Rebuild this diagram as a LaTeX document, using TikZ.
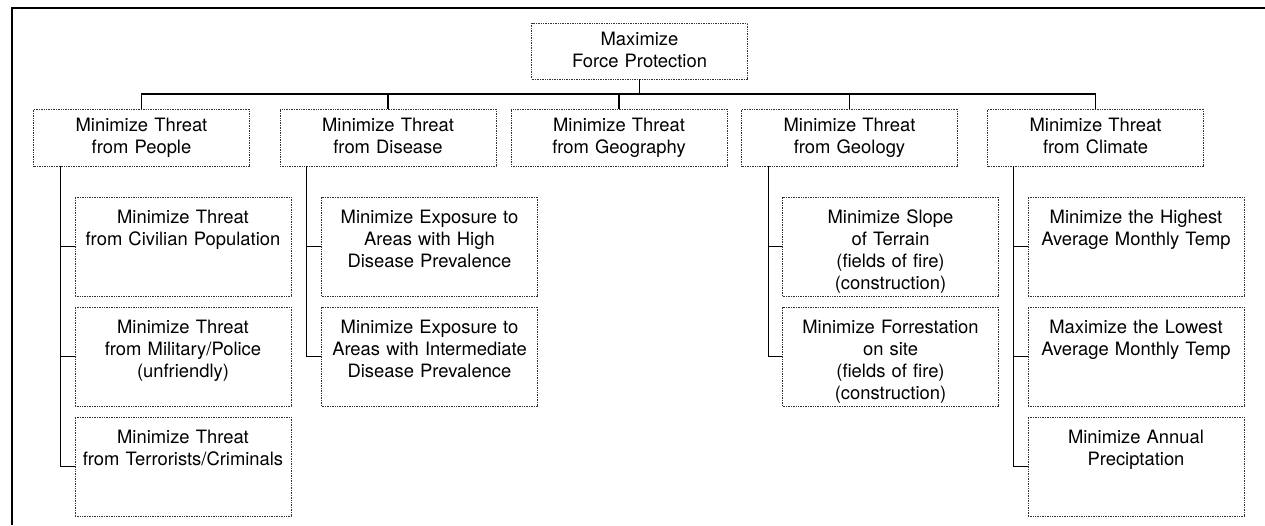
\documentclass[tikz,border=0pt]{standalone}
\usepackage{fontspec}
\setmainfont{TeX Gyre Heros}
\usepackage{tikz}
\usetikzlibrary{positioning}
\tikzstyle{goal} = [rectangle, draw=black!80, densely dotted, line width=0.7pt, minimum width=216pt, minimum height=57pt, text width=208pt, inner xsep=3pt, text height=14pt, text depth=26pt, align=center]
\tikzstyle{measure} = [rectangle, draw=black!80, densely dotted, line width=0.7pt, minimum width=216pt, text width=208pt, inner xsep=3pt, inner ysep=12pt, text height=14pt, text depth=61pt, align=center]
\tikzstyle{link} = [draw=black, line width=1.3pt]
\tikzstyle{frame} = [draw=black, line width=2pt]

\begin{document}
\begin{tikzpicture}[x=1pt, y=-1pt, font=\fontsize{18.4}{22}\selectfont]

    \useasboundingbox (0,0) rectangle (1265,525);
    \draw[frame] (12,525) -- (12,8) -- (1265,8);

    \node (forceProtection) [goal, minimum height=56pt] at (639.5,51) {Maximize\\Force Protection};

    \node (threatPeople) [goal] at (141.5,137.5) {Minimize Threat\\from People};
    \node (threatDisease) [goal] at (388,137.5) {Minimize Threat\\from Disease};
    \node (threatGeography) [goal] at (619,137.5) {Minimize Threat\\from Geography};
    \node (threatGeology) [goal] at (849.5,137.5) {Minimize Threat\\from Geology};
    \node (threatClimate) [goal] at (1095.5,137.5) {Minimize Threat\\from Climate};

    \node (civilianPopulation) [measure] at (183,246.5) {Minimize Threat\\from Civilian Population};
    \node (militaryPolice) [measure] at (183,356.5) {Minimize Threat\\from Military/Police\\(unfriendly)};
    \node (terroristsCriminals) [measure] at (183,466.5) {Minimize Threat\\from Terrorists/Criminals};

    \node (highPrevalence) [measure] at (429.5,246.5) {Minimize Exposure to\\Areas with High\\Disease Prevalence};
    \node (intermediatePrevalence) [measure] at (429.5,356.5) {Minimize Exposure to\\Areas with Intermediate\\Disease Prevalence};

    \node (slopeTerrain) [measure] at (890.5,246.5) {Minimize Slope\\of Terrain\\(fields of fire)\\(construction)};
    \node (forrestation) [measure] at (890.5,356.5) {Minimize Forrestation\\on site\\(fields of fire)\\(construction)};

    \node (highestTemp) [measure] at (1136,246.5) {Minimize the Highest\\Average Monthly Temp};
    \node (lowestTemp) [measure] at (1136,356.5) {Maximize the Lowest\\Average Monthly Temp};
    \node (precipitation) [measure] at (1136,466.5) {Minimize Annual\\Preciptation};

    \coordinate (bus) at (639.5,94);

    \draw[link] (forceProtection.south) -- (forceProtection.south |- bus);
    \draw[link] (threatPeople.north) |- (threatClimate.north |- bus) -- (threatClimate.north);
    \draw[link] (threatDisease.north) -- (threatDisease.north |- bus);
    \draw[link] (threatGeography.north) -- (threatGeography.north |- bus);
    \draw[link] (threatGeology.north) -- (threatGeology.north |- bus);

    \draw[link] ([xshift=27pt]threatPeople.south west) |- (civilianPopulation.west);
    \draw[link] ([xshift=27pt]threatPeople.south west) |- (militaryPolice.west);
    \draw[link] ([xshift=27pt]threatPeople.south west) |- (terroristsCriminals.west);

    \draw[link] ([xshift=27pt]threatDisease.south west) |- (highPrevalence.west);
    \draw[link] ([xshift=27pt]threatDisease.south west) |- (intermediatePrevalence.west);

    \draw[link] ([xshift=27pt]threatGeology.south west) |- (slopeTerrain.west);
    \draw[link] ([xshift=27pt]threatGeology.south west) |- (forrestation.west);

    \draw[link] ([xshift=26pt]threatClimate.south west) |- (highestTemp.west);
    \draw[link] ([xshift=26pt]threatClimate.south west) |- (lowestTemp.west);
    \draw[link] ([xshift=26pt]threatClimate.south west) |- (precipitation.west);

\end{tikzpicture}
\end{document}
